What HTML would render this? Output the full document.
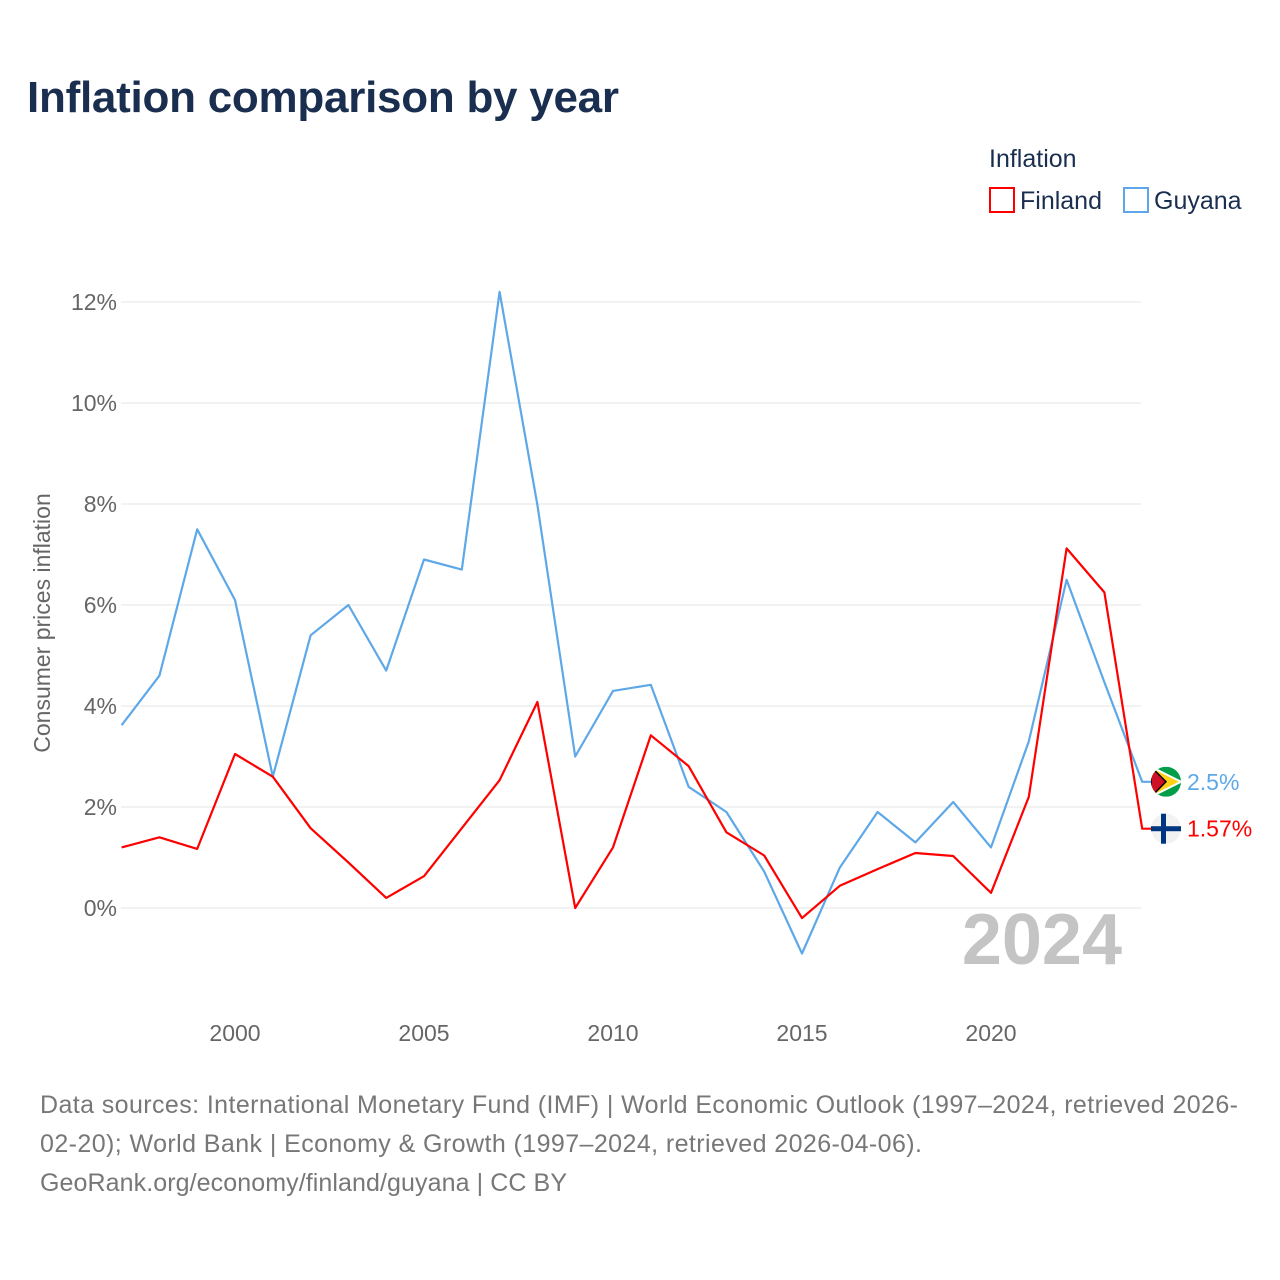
<!DOCTYPE html>
<html><head><meta charset="utf-8">
<style>
body{margin:0;background:#fff;font-family:"Liberation Sans",sans-serif;}
#wrap{position:relative;width:1280px;height:1280px;overflow:hidden;}
</style></head>
<body><div id="wrap">
<svg id="chart" width="1280" height="1280">
<defs>
<clipPath id="cg"><circle cx="1166" cy="781" r="15"/></clipPath>
</defs>
<text x="27" y="112" font-size="44" font-weight="bold" fill="#1a2e4f" textLength="592">Inflation comparison by year</text>
<text x="989" y="167" font-size="25" fill="#1a2e4f">Inflation</text>
<g><rect x="990" y="188" width="24" height="24" fill="none" stroke="#f00" stroke-width="2"/><text x="1020" y="209" font-size="25" fill="#1a2e4f">Finland</text></g>
<g><rect x="1124" y="188" width="24" height="24" fill="none" stroke="#5ea8e8" stroke-width="2"/><text x="1154" y="209" font-size="25" fill="#1a2e4f">Guyana</text></g>
<g id="grid"></g><g id="yt"></g><g id="xt"></g>
<text x="1122" y="964" font-size="72" font-weight="bold" fill="#c4c4c4" text-anchor="end">2024</text>
<text transform="translate(50,623) rotate(-90)" font-size="23" fill="#666" text-anchor="middle">Consumer prices inflation</text>
<g id="series"></g>
<text x="40" y="1113" font-size="25" fill="#777" textLength="1198">Data sources: International Monetary Fund (IMF) | World Economic Outlook (1997–2024, retrieved 2026-</text>
<text x="40" y="1152" font-size="25" fill="#777" textLength="882">02-20); World Bank | Economy &amp; Growth (1997–2024, retrieved 2026-04-06).</text>
<text x="40" y="1191" font-size="25" fill="#777" textLength="527">GeoRank.org/economy/finland/guyana | CC BY</text>
</svg></div>
<script>
const years=[1997,1998,1999,2000,2001,2002,2003,2004,2005,2006,2007,2008,2009,2010,2011,2012,2013,2014,2015,2016,2017,2018,2019,2020,2021,2022,2023,2024];
const finland=[1.2,1.4,1.17,3.05,2.6,1.58,0.9,0.2,0.63,1.58,2.53,4.08,0,1.2,3.42,2.81,1.5,1.04,-0.2,0.44,0.77,1.09,1.03,0.3,2.2,7.12,6.25,1.57];
const guyana=[3.62,4.6,7.5,6.1,2.6,5.4,6.0,4.7,6.9,6.7,12.2,7.98,3.0,4.3,4.42,2.4,1.9,0.72,-0.9,0.8,1.9,1.3,2.1,1.2,3.3,6.5,4.47,2.5];
const yTicks=[0,2,4,6,8,10,12];
const xTicks=[2000,2005,2010,2015,2020];
const NS="http://www.w3.org/2000/svg";
const X=y=>121.6+(y-1997)*37.8;
const Y=v=>908-v*50.5;
function mk(t,a,p){const e=document.createElementNS(NS,t);for(const k in a)e.setAttribute(k,a[k]);p.appendChild(e);return e;}
const grid=document.getElementById('grid'),yt=document.getElementById('yt'),xt=document.getElementById('xt'),ser=document.getElementById('series');
yTicks.forEach(v=>{
 const l=mk('line',{x1:121,x2:1141,y1:Y(v),y2:Y(v),stroke:'#e6e6e6','stroke-width':1},grid);
 
 
 const t=mk('text',{x:117,y:Y(v)+8,'font-size':23,fill:'#666','text-anchor':'end'},yt);t.textContent=v+'%';
 
 
});
xTicks.forEach(v=>{
 const t=mk('text',{x:X(v),y:1041,'font-size':23,fill:'#666','text-anchor':'middle'},xt);t.textContent=v;
 
 
});
function line(vals,col,name,label,flagFn){
 const last=vals[vals.length-1];
 let d=vals.map((v,i)=>(i?'L':'M')+X(years[i]).toFixed(1)+' '+Y(v).toFixed(1)).join(' ');
 d+=' L'+(X(2024)+14)+' '+Y(last).toFixed(1);
 const p=mk('path',{d:d,fill:'none',stroke:col,'stroke-width':2.2,'stroke-linejoin':'round'},ser);
 
 
 const g=mk('g',{},ser);
 
 
 flagFn(g,1166,Y(last));
 const t=mk('text',{x:1187,y:Y(last)+8,'font-size':23,fill:col},ser);t.textContent=label;
 
 
}
line(guyana,'#5ea8e8','guyana','2.5%',(g,cx,cy)=>{
 document.querySelector('#cg circle').setAttribute('cy',cy);
 const c=mk('g',{'clip-path':'url(#cg)'},g);
 mk('rect',{x:cx-15,y:cy-15,width:30,height:30,fill:'#009e49'},c);
 mk('path',{d:`M${cx-15} ${cy-15} L${cx+15} ${cy} L${cx-15} ${cy+15}Z`,fill:'#fcd116',stroke:'#fff','stroke-width':2},c);
 mk('path',{d:`M${cx-15} ${cy-15} L${cx} ${cy} L${cx-15} ${cy+15}Z`,fill:'#ce1126',stroke:'#000','stroke-width':1.5},c);
});
line(finland,'#f00','finland','1.57%',(g,cx,cy)=>{
 mk('circle',{cx:cx,cy:cy,r:15,fill:'#f2f2f2'},g);
 mk('rect',{x:cx-15,y:cy-2.5,width:30,height:5,fill:'#003580'},g);
 mk('rect',{x:cx-5,y:cy-15,width:5,height:30,fill:'#003580'},g);
});
</script></body></html>
